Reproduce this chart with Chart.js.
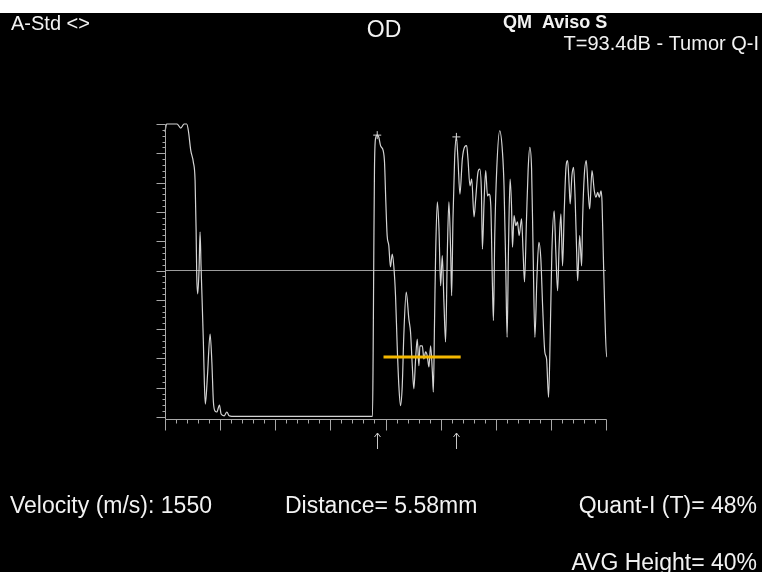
<!DOCTYPE html>
<html>
<head>
<meta charset="utf-8">
<script src="https://cdn.jsdelivr.net/npm/chart.js@4.4.1/dist/chart.umd.min.js"></script>
<style>
  html, body { margin: 0; padding: 0; background: #000; }
  canvas { display: block; }
</style>
</head>
<body>
<canvas id="scan" width="762" height="572"></canvas>
<script>
// echo trace (x in axis divisions, y in % height)
const traceX = [0, 0.15, 1.09, 1.43, 1.73, 1.97, 2.12, 2.34, 2.57, 2.73, 2.82, 2.88, 2.97, 3.09, 3.18, 3.27, 3.39, 3.48, 3.57, 3.66,
  3.85, 4.09, 4.25, 4.39, 4.55, 4.70, 4.94, 5.09, 5.36, 5.61, 5.82, 6.06, 18.82, 18.88, 18.94, 19.0, 19.09, 19.25, 19.39, 19.55,
  19.79, 19.91, 20.03, 20.15, 20.3, 20.45, 20.61, 20.75, 20.91, 21.06, 21.21, 21.36, 21.52, 21.66, 21.88, 22.12, 22.27, 22.43, 22.57, 22.73,
  22.88, 23.03, 23.12, 23.34, 23.48, 23.64, 23.79, 23.94, 24.09, 24.25, 24.34, 24.45, 24.55, 24.7, 24.85, 25.0, 25.15, 25.3, 25.45, 25.61,
  25.75, 25.91, 26.0, 26.12, 26.27, 26.43, 26.57, 26.75, 26.97, 27.18, 27.36, 27.48, 27.66, 27.82, 28.03, 28.18, 28.39, 28.55, 28.7, 28.79,
  28.94, 29.09, 29.25, 29.39, 29.55, 29.7, 29.79, 29.91, 30.09, 30.36, 30.61, 30.75, 30.91, 31.03, 31.15, 31.3, 31.43, 31.52, 31.66, 31.82,
  31.97, 32.12, 32.34, 32.48, 32.61, 32.79, 32.94, 33.09, 33.25, 33.39, 33.55, 33.73, 33.91, 34.09, 34.25, 34.45, 34.61, 34.79, 34.94, 35.09,
  35.3, 35.45, 35.61, 35.75, 35.91, 36.06, 36.21, 36.36, 36.52, 36.66, 36.75, 36.91, 37.06, 37.21, 37.34, 37.43, 37.61, 37.79, 37.88, 38.03,
  38.21, 38.39, 38.52, 38.73, 38.94, 39.09, 39.25, 39.39, 39.55, 39.64, 39.75, 39.91, 40.06, 40.18];
const traceY = [97.3, 100, 100, 98.6, 100, 100, 97.7, 90.9, 87.0, 80.6, 64.2, 48.2, 42.0, 50.5, 63.1, 51.5, 36.9, 25.6, 11.9, 4.4,
  14.0, 28.3, 18.8, 5.1, 2.0, 1.7, 4.1, 1.0, 0.4, 1.7, 0.4, 0.2, 0.2, 22.2, 56.3, 84.6, 94.9, 96.2, 95.5, 92.6,
  90.9, 87.0, 73.4, 61.9, 58.5, 51.2, 55.6, 51.6, 41.4, 24.3, 10.7, 3.9, 10.7, 27.7, 42.6, 33.4, 29.0, 17.5, 9.6, 19.8,
  26.6, 17.5, 24.3, 24.3, 19.8, 22.2, 20.8, 17.1, 24.3, 15.4, 8.5, 33.4, 56.3, 73.4, 64.2, 44.8, 55.1, 39.2, 25.6, 56.3,
  73.4, 56.3, 41.4, 67.6, 88.1, 95.6, 88.1, 76.1, 88.1, 92.2, 92.6, 88.1, 78.9, 81.2, 68.3, 74.4, 83.6, 84.6, 76.8, 57.3,
  73.4, 84.1, 75.5, 76.1, 72.1, 44.8, 32.9, 61.9, 84.6, 97.7, 90.4, 78.9, 50.5, 27.2, 56.3, 81.2, 72.1, 58.0, 68.7, 65.3,
  66.6, 61.9, 67.6, 56.3, 46.1, 67.6, 84.6, 92.0, 84.6, 56.3, 27.2, 47.1, 59.6, 53.9, 38.0, 22.2, 19.8, 6.7, 27.7, 56.3,
  70.4, 56.3, 43.1, 58.5, 69.3, 51.6, 69.9, 84.6, 87.5, 78.9, 72.7, 82.4, 85.2, 73.4, 56.3, 46.5, 61.9, 51.6, 67.6, 82.4,
  87.5, 76.7, 71.0, 84.1, 77.2, 75.0, 76.7, 75.0, 77.2, 73.4, 56.3, 33.4, 20.4, 33.4];

// the two marked peaks (cross + arrow under the axis)
const peakX = [19.25, 26.43];
const peakY = [96.2, 95.6];

// gate line (yellow) and reference line
const gateX = [19.82, 26.82];
const gateLevel = 20.5;
const midLevel = 50;

// axis ranges
const xMax = 40;   // small divisions along the bottom
const yMax = 100;

const topTexts = ['A-Std <>', 'OD', 'QM  Aviso S', 'T=93.4dB - Tumor Q-I'];
const bottomTexts = ['Velocity (m/s): 1550', 'Distance= 5.58mm', 'Quant-I (T)= 48%', 'AVG Height= 40%'];

const FONT = '"Liberation Sans", Arial, sans-serif';

const scanFrame = {
  id: 'scanFrame',
  beforeDraw(chart) {
    const c = chart.ctx;
    c.save();
    c.fillStyle = '#000';
    c.fillRect(0, 0, chart.width, chart.height);
    c.fillStyle = '#fff';
    c.fillRect(0, 0, chart.width, 13);
    c.restore();
  },
  afterDraw(chart) {
    const c = chart.ctx;
    const xs = chart.scales.x, ys = chart.scales.y;
    const x0 = Math.round(xs.getPixelForValue(0)) + 0.5;
    const x1 = Math.round(xs.getPixelForValue(xMax)) + 0.5;
    const yTop = Math.round(ys.getPixelForValue(yMax)) + 0.5;
    const yBot = Math.round(ys.getPixelForValue(0)) + 2.5;

    c.save();
    c.strokeStyle = '#a8a8a8';
    c.lineWidth = 1;
    c.beginPath();
    // left axis + ticks
    c.moveTo(x0, yTop); c.lineTo(x0, yBot);
    for (let v = 0; v <= yMax; v += 2) {
      const py = Math.round(ys.getPixelForValue(v)) + 0.5;
      c.moveTo(v % 10 === 0 ? x0 - 9 : x0 - 3, py);
      c.lineTo(x0, py);
    }
    // bottom axis + ticks
    c.moveTo(x0, yBot); c.lineTo(x1, yBot);
    for (let v = 0; v <= xMax; v++) {
      const px = Math.round(xs.getPixelForValue(v)) + 0.5;
      c.moveTo(px, yBot);
      c.lineTo(px, yBot + (v % 5 === 0 ? 11 : 4));
    }
    c.stroke();

    // arrows under the marked peaks
    c.strokeStyle = '#c8c8c8';
    c.beginPath();
    peakX.forEach(v => {
      const px = Math.round(xs.getPixelForValue(v)) + 0.5;
      c.moveTo(px, 433); c.lineTo(px, 449);
      c.moveTo(px - 3, 437); c.lineTo(px, 433); c.lineTo(px + 3, 437);
    });
    c.stroke();

    // texts
    c.fillStyle = '#f2f2f2';
    c.textBaseline = 'alphabetic';
    c.font = '20px ' + FONT; c.textAlign = 'left';
    c.fillText(topTexts[0], 11, 30);
    c.font = '23px ' + FONT; c.textAlign = 'center';
    c.fillText(topTexts[1], 384, 37);
    c.font = 'bold 18px ' + FONT; c.textAlign = 'left';
    c.fillText(topTexts[2], 503, 28);
    c.font = '20px ' + FONT; c.textAlign = 'right';
    c.fillText(topTexts[3], 759, 50);

    c.font = '23px ' + FONT;
    c.textAlign = 'left';
    c.fillText(bottomTexts[0], 10, 513);
    c.fillText(bottomTexts[1], 285, 513);
    c.textAlign = 'right';
    c.fillText(bottomTexts[2], 757, 513);
    c.fillText(bottomTexts[3], 757, 570);
    c.restore();
  }
};

const tracePoints = traceX.map((x, i) => ({ x: x, y: traceY[i] }));
const peakPoints = peakX.map((x, i) => ({ x: x, y: peakY[i] }));

new Chart(document.getElementById('scan'), {
  type: 'line',
  data: {
    datasets: [
      {
        label: 'Gate',
        data: gateX.map(x => ({ x: x, y: gateLevel })),
        borderColor: '#f4b800',
        borderWidth: 3,
        pointRadius: 0,
        order: 0
      },
      {
        label: 'Echo',
        data: tracePoints,
        borderColor: '#d4d4d4',
        borderWidth: 1.2,
        pointRadius: 0,
        cubicInterpolationMode: 'monotone',
        clip: false,
        order: 1
      },
      {
        label: 'Peaks',
        type: 'scatter',
        data: peakPoints,
        pointStyle: 'cross',
        pointRadius: 4,
        borderColor: '#d8d8d8',
        borderWidth: 1,
        showLine: false,
        clip: false,
        order: 1
      },
      {
        label: 'Reference',
        data: [{ x: 0, y: midLevel }, { x: xMax, y: midLevel }],
        borderColor: '#9c9c9c',
        borderWidth: 1,
        pointRadius: 0,
        order: 2
      }
    ]
  },
  options: {
    responsive: false,
    animation: false,
    events: [],
    layout: { padding: { left: 165, right: 156, top: 124, bottom: 155 } },
    plugins: { legend: { display: false }, tooltip: { enabled: false } },
    scales: {
      x: { type: 'linear', min: 0, max: xMax, display: false },
      y: { min: 0, max: yMax, display: false }
    }
  },
  plugins: [scanFrame]
});
</script>
</body>
</html>
